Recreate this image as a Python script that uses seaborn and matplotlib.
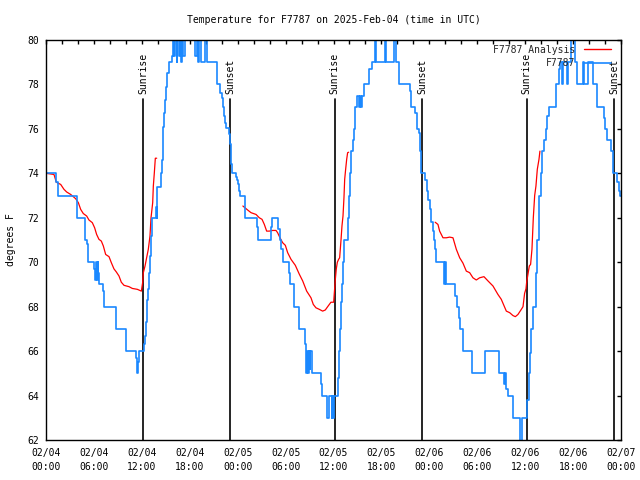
import numpy as np
import pandas as pd
import matplotlib
matplotlib.use("Agg")
import matplotlib.pyplot as plt
import matplotlib.transforms as mtransforms
from matplotlib.lines import Line2D
from matplotlib.ticker import MultipleLocator
import seaborn as sns

# ---------------- data ----------------
title = "Temperature for F7787 on 2025-Feb-04 (time in UTC)"
y_label = "degrees F"
series_names = ["F7787 Analysis", "F7787"]

x_tick_hours = [0, 6, 12, 18, 24, 30, 36, 42, 48, 54, 60, 66, 72]
x_tick_labels = ["02/04\n00:00", "02/04\n06:00", "02/04\n12:00", "02/04\n18:00",
                 "02/05\n00:00", "02/05\n06:00", "02/05\n12:00", "02/05\n18:00",
                 "02/06\n00:00", "02/06\n06:00", "02/06\n12:00", "02/06\n18:00",
                 "02/07\n00:00"]
y_ticks = [62, 64, 66, 68, 70, 72, 74, 76, 78, 80]

sunrise_hours = [12.18, 36.15, 60.17]
sunset_hours = [23.05, 47.08, 71.12]

# observed station temperature (hours since 02/04 00:00 UTC)
blue_hours = [0.0, 1.29, 1.5, 3.92, 4.92, 5.09, 5.22, 5.30, 6.05, 6.14, 6.30, 6.39, 6.47,
              6.55, 6.68, 7.18, 7.30, 8.72, 9.98, 11.31, 11.44, 11.56, 11.65, 12.27, 12.40,
              12.52, 12.60, 12.69, 12.81, 12.94, 13.02, 13.15, 13.27, 13.77, 13.86, 13.94,
              14.40, 14.52, 14.61, 14.69, 14.78, 14.90, 15.03, 15.19, 15.44, 15.74, 15.94,
              16.05, 16.2, 16.35, 16.45, 16.6, 16.75, 16.9, 17.0, 17.2, 17.35, 18.7, 18.85,
              19.0, 19.2, 19.35, 19.9, 20.1, 21.45, 21.79, 22.0, 22.12, 22.29, 22.41, 22.54,
              22.96, 23.04, 23.12, 23.2, 23.29, 23.79, 23.96, 24.08, 24.2, 24.29, 24.96,
              26.4, 26.5, 28.15, 28.3, 29.1, 29.3, 29.45, 29.65, 30.4, 30.55, 31.1, 31.64,
              32.45, 32.6, 32.7, 32.8, 32.9, 33.0, 33.1, 33.25, 34.4, 34.55, 35.15, 35.45,
              35.75, 35.85, 35.9, 36.06, 36.52, 36.64, 36.85, 36.98, 37.06, 37.19, 37.27,
              37.81, 37.94, 38.02, 38.19, 38.44, 38.61, 38.73, 38.98, 39.15, 39.27, 39.4,
              39.57, 39.77, 40.4, 40.8, 41.15, 41.35, 42.4, 42.6, 43.6, 43.85, 44.2, 45.55,
              45.75, 46.16, 46.45, 46.66, 46.87, 47.0, 47.45, 47.65, 47.85, 48.04, 48.25,
              48.41, 48.58, 48.75, 48.83, 49.79, 49.95, 50.05, 51.25, 51.5, 51.71, 51.88,
              52.21, 53.38, 55.0, 56.72, 57.35, 57.45, 57.6, 57.85, 58.51, 59.35, 59.6,
              60.27, 60.48, 60.6, 60.77, 60.98, 61.31, 61.52, 61.73, 61.94, 62.15, 62.35,
              62.56, 62.77, 62.98, 63.9, 64.23, 64.4, 64.6, 64.7, 65.2, 65.4, 65.8, 66.2,
              66.45, 67.2, 67.4, 67.9, 68.5, 68.95, 69.85, 70.05, 70.3, 70.7, 71.0, 71.55,
              71.75, 71.9, 72.0]
blue_temps = [74.0, 73.6, 73.0, 72.0, 71.0, 70.8, 70.3, 70.0, 69.7, 69.2, 70.0, 69.2, 70.0,
              69.5, 69.0, 68.7, 68.0, 67.0, 66.0, 65.7, 65.0, 65.5, 66.0, 66.3, 66.7,
              67.3, 67.7, 68.3, 68.8, 69.5, 70.3, 71.2, 72.0, 72.5, 72.0, 73.4,
              74.0, 74.6, 75.4, 76.1, 76.7, 77.3, 77.9, 78.5, 79.0, 79.3, 80.5,
              79.3, 80.5, 79.0, 80.5, 79.3, 80.5, 79.0, 80.5, 79.3, 80.5, 79.3, 80.5,
              79.0, 80.5, 79.0, 80.5, 79.0, 78.0, 77.6, 77.4, 77.0, 76.6, 76.25, 76.05,
              75.75, 75.3, 75.08, 74.4, 74.0, 73.85, 73.7, 73.5, 73.2, 73.0, 72.0,
              71.6, 71.0, 71.6, 72.0, 71.5, 71.0, 70.6, 70.0, 69.5, 69.0, 68.0, 67.0,
              66.3, 65.0, 66.0, 65.0, 66.0, 65.2, 66.0, 65.0, 64.5, 64.0, 63.0, 64.0,
              63.0, 64.0, 63.0, 64.0, 64.8, 66.0, 67.0, 68.2, 69.0, 70.0, 71.0,
              72.0, 73.0, 74.0, 75.0, 75.5, 76.0, 77.0, 77.5, 77.0, 77.5, 77.0,
              77.5, 78.0, 78.7, 79.0, 80.5, 79.0, 80.5, 79.0, 80.5, 79.0, 78.0, 77.7,
              77.0, 76.7, 76.0, 75.8, 75.0, 74.0, 73.7, 73.2, 72.8, 72.4, 71.8,
              71.4, 71.0, 70.6, 70.0, 69.0, 70.0, 69.0, 68.5, 68.0, 67.5, 67.0,
              66.0, 65.0, 66.0, 65.0, 64.5, 65.0, 64.3, 64.0, 63.0, 61.5, 63.0,
              63.8, 65.0, 65.9, 67.0, 68.0, 69.5, 71.0, 73.0, 74.0, 75.0, 75.5,
              76.0, 76.6, 77.0, 78.0, 78.7, 79.0, 78.0, 79.0, 78.0, 79.0, 80.5, 79.0,
              78.0, 79.0, 78.0, 79.0, 78.0, 77.0, 76.5, 76.0, 75.5, 75.0, 74.0, 73.6,
              73.2, 73.0, 73.0]

# analysis temperature, three separate night segments
red_hours_1 = [0.0, 1.0, 1.29, 1.84, 2.25, 2.59, 3.09, 3.71, 4.05, 4.34, 4.67, 5.09, 5.38,
               5.8, 6.09, 6.34, 6.63, 6.93, 7.18, 7.47, 7.89, 8.18, 8.51, 8.81, 9.14, 9.43,
               9.77, 10.39, 10.81, 11.44, 11.94, 12.1, 12.19, 12.4, 12.6, 12.81, 13.02,
               13.15, 13.36, 13.44, 13.56, 13.69, 13.86]
red_temps_1 = [74.0, 73.95, 73.6, 73.5, 73.28, 73.16, 73.05, 72.86, 72.68, 72.38, 72.19,
               72.08, 71.9, 71.78, 71.55, 71.25, 71.03, 70.95, 70.73, 70.35, 70.25, 69.98,
               69.7, 69.56, 69.38, 69.1, 68.96, 68.9, 68.82, 68.78, 68.7, 69.08, 69.53,
               69.83, 70.2, 70.58, 71.18, 72.0, 72.68, 73.43, 74.0, 74.68, 74.68]
red_hours_2 = [24.65, 25.25, 25.67, 26.3, 26.71, 27.05, 27.34, 27.63, 27.96, 28.38, 28.8,
               29.0, 29.3, 29.63, 29.97, 30.26, 30.68, 31.22, 31.72, 32.14, 32.64, 33.18,
               33.47, 33.8, 34.22, 34.64, 34.97, 35.27, 35.68, 36.02, 36.14, 36.23, 36.35,
               36.48, 36.64, 36.77, 36.94, 37.06, 37.19, 37.31, 37.4, 37.52, 37.65, 37.77,
               37.9]
red_temps_2 = [72.53, 72.35, 72.23, 72.15, 72.0, 71.93, 71.7, 71.4, 71.4, 71.43, 71.43,
               71.33, 71.1, 70.88, 70.76, 70.43, 70.13, 69.86, 69.46, 69.16, 68.7, 68.4,
               68.1, 67.95, 67.88, 67.8, 67.85, 68.0, 68.2, 68.2, 68.8, 69.23, 69.7,
               70.0, 70.13, 70.2, 71.0, 71.63, 72.08, 72.9, 73.73, 74.18, 74.63, 74.93,
               74.95]
red_hours_3 = [48.73, 49.08, 49.29, 49.71, 50.13, 50.54, 50.96, 51.38, 51.8, 52.21, 52.63,
               53.05, 53.46, 53.88, 54.3, 54.84, 55.34, 55.97, 56.59, 57.01, 57.64, 58.06,
               58.47, 58.77, 59.1, 59.52, 59.73, 59.93, 60.1, 60.18, 60.35, 60.52, 60.68,
               60.85, 61.02, 61.19, 61.35, 61.52, 61.73, 61.85]
red_temps_3 = [71.8, 71.7, 71.4, 71.1, 71.1, 71.13, 71.1, 70.58, 70.2, 69.96, 69.6,
               69.53, 69.3, 69.2, 69.3, 69.35, 69.16, 68.93, 68.55, 68.33, 67.8, 67.73,
               67.6, 67.55, 67.65, 67.88, 68.0, 68.6, 68.8, 69.08, 69.46, 69.83, 69.9,
               70.58, 72.0, 73.0, 73.43, 74.18, 74.63, 75.0]

# ---------------- style ----------------
sns.set_theme(style="white")
plt.rcParams["font.family"] = ["DejaVu Sans Mono", "DejaVu Sans"]
FS = 7.0
RED = "#ff0000"
BLUE = "#1a88ff"

fig = plt.figure(figsize=(6.4, 4.8), dpi=100)
ax = fig.add_axes([46 / 640, 40 / 480, 575 / 640, 400 / 480])

red_df = pd.concat([
    pd.DataFrame({"hour": red_hours_1, "temp": red_temps_1, "seg": 1}),
    pd.DataFrame({"hour": red_hours_2, "temp": red_temps_2, "seg": 2}),
    pd.DataFrame({"hour": red_hours_3, "temp": red_temps_3, "seg": 3}),
])
blue_df = pd.DataFrame({"hour": blue_hours, "temp": blue_temps})

sns.lineplot(data=red_df, x="hour", y="temp", units="seg", estimator=None, sort=False,
             color=RED, lw=0.9, ax=ax, legend=False)
sns.lineplot(data=blue_df, x="hour", y="temp", estimator=None, sort=False,
             drawstyle="steps-post", color=BLUE, lw=1.2, ax=ax, legend=False)

trans = mtransforms.blended_transform_factory(ax.transData, ax.transAxes)
for name, hours in (("Sunrise", sunrise_hours), ("Sunset", sunset_hours)):
    for h in hours:
        ax.axvline(h, ymin=0, ymax=0.8525, color="black", lw=1.2, zorder=1)
        ax.text(h, 0.866, name, transform=trans, rotation=90, ha="center",
                va="bottom", fontsize=FS, color="black")

ax.set_xlim(0, 72)
ax.set_ylim(62, 80)
ax.set_xticks(x_tick_hours, x_tick_labels)
ax.xaxis.set_minor_locator(MultipleLocator(2))
ax.set_yticks(y_ticks, [str(v) for v in y_ticks])
ax.tick_params(which="both", direction="in", top=True, right=True, length=3,
               width=1, color="black", labelsize=FS, labelcolor="black")
ax.tick_params(axis="x", which="major", pad=6)
ax.tick_params(axis="y", which="major", pad=5)
for lbl in ax.get_xticklabels():
    lbl.set_linespacing(1.4)
for sp in ax.spines.values():
    sp.set_color("black")
    sp.set_linewidth(1.0)

ax.set_xlabel("")
ax.set_ylabel(y_label, fontsize=FS, color="black")
ax.yaxis.set_label_coords(-0.052, 0.5)
ax.set_title(title, fontsize=FS, color="black", pad=12)

handles = [Line2D([], [], color=RED, lw=1.0), Line2D([], [], color=BLUE, lw=1.2)]
ax.legend(handles, series_names, loc="upper right", frameon=False, markerfirst=False,
          fontsize=FS, handlelength=2.8, handletextpad=0.9, borderaxespad=0.8,
          borderpad=0.2, labelspacing=0.35, bbox_to_anchor=(1.0, 1.0 + 0.5 / 40))

fig.savefig("out.png", dpi=100)
